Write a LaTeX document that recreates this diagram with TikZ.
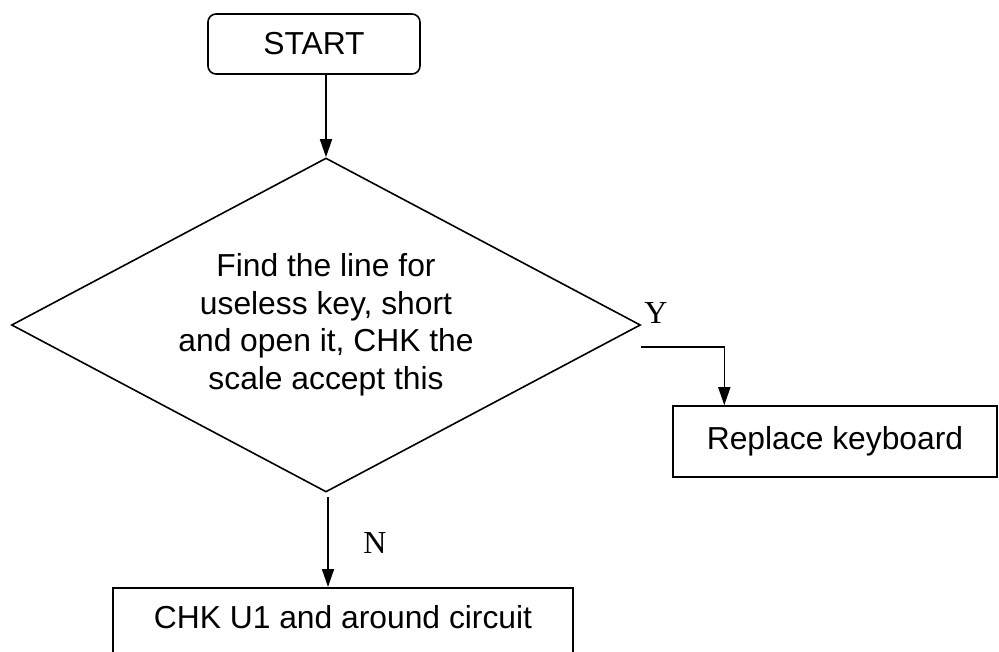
\documentclass[tikz,border=0pt]{standalone}
\usepackage{fontspec}
\setmainfont{Liberation Sans}
\newfontfamily\yesno{Liberation Serif}
\usetikzlibrary{shapes.geometric, arrows.meta, calc}

\begin{document}
\begin{tikzpicture}[x=1pt, y=-1pt, line width=1.6pt,
	box/.style={draw, rectangle, inner sep=0pt, font=\fontsize{31.8}{37}\selectfont},
	decision/.style={draw, diamond, aspect=1.886, minimum width=629pt, minimum height=334pt, inner sep=0pt, align=center, font=\fontsize{31.8}{37.5}\selectfont},
	arr/.style={-{Triangle[length=18pt,width=12pt]}},
	yn/.style={font=\yesno\fontsize{32}{32}\selectfont}]

	\useasboundingbox (0,0) rectangle (999,651);

	% boxes
	\node[box, rounded corners=8pt, minimum width=212pt, minimum height=60pt] (start) at (314,44) {START};
	\node[decision] (chk) at (326,325) {Find the line for\\useless key, short\\and open it, CHK the\\scale accept this};
	\node[box, minimum width=324pt, minimum height=71pt] (rk) at (835,441.5) {Replace keyboard};
	\node[box, minimum width=460pt, text height=24pt, text depth=60pt, inner ysep=17pt, anchor=north] (ck) at (343,587) {CHK U1 and around circuit};

	% labels
	\node[yn] (ylab) at (656,313) {Y};
	\node[yn] (nlab) at (375,543) {N};

	% connectors
	\coordinate (yout) at ($(chk.east)+(0,22)$);
	\coordinate (ybend) at ($(yout)+(83,0)$);
	\coordinate (nout) at ($(chk.south)+(2,4)$);
	\draw[arr] (start.south -| chk.north) -- (chk.north);
	\draw[arr] (yout) -- (ybend) -- (ybend |- rk.north);
	\draw[arr] (nout) -- (nout |- ck.north);
\end{tikzpicture}
\end{document}
